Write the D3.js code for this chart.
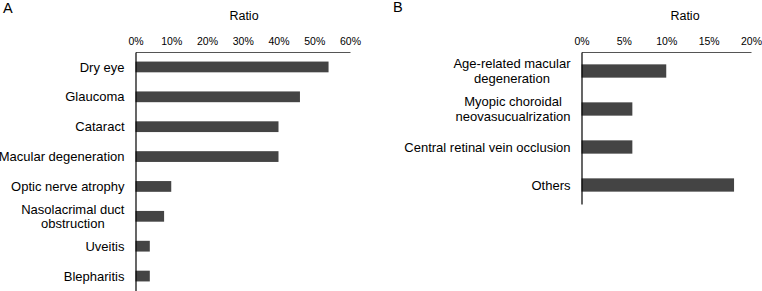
<!DOCTYPE html>
<html><head><meta charset="utf-8">
<script src="https://cdn.jsdelivr.net/npm/d3@7"></script>
<style>
body{margin:0;background:#fff;}
svg{display:block;font-family:"Liberation Sans",Arial,sans-serif;}
</style></head>
<body>
<svg id="c" width="762" height="291"></svg>
<script>
const catsA = ["Dry eye","Glaucoma","Cataract","Macular degeneration","Optic nerve atrophy","Nasolacrimal duct\nobstruction","Uveitis","Blepharitis"];
const valsA = [0.54,0.46,0.40,0.40,0.10,0.08,0.04,0.04];
const ticksA = [0,0.1,0.2,0.3,0.4,0.5,0.6];

const catsB = ["Age-related macular\ndegeneration","Myopic choroidal\nneovasucualrization","Central retinal vein occlusion","Others"];
const valsB = [0.10,0.06,0.06,0.18];
const ticksB = [0,0.05,0.10,0.15,0.20];

const svg = d3.select("#c");

function panel(cfg){
  const g = svg.append("g");
  const x = d3.scaleLinear().domain(cfg.domain).range([cfg.x0, cfg.x1]);
  const y = d3.scaleBand().domain(cfg.cats).range([cfg.y0, cfg.y1]).paddingInner(cfg.pad).paddingOuter(cfg.pad/2);
  // bars
  g.selectAll("rect").data(cfg.cats).enter().append("rect")
    .attr("x", x(0)).attr("y", d => y(d))
    .attr("width", (d,i) => x(cfg.vals[i]) - x(0))
    .attr("height", y.bandwidth())
    .attr("fill", "#444444");
  // top axis
  const ax = g.append("g").attr("transform", `translate(0,${cfg.y0})`)
    .call(d3.axisTop(x).tickValues(cfg.ticks).tickSize(0).tickPadding(7.5).tickFormat(d3.format(".0%")));
  ax.select(".domain").attr("stroke", "#555").attr("stroke-width", 1.2);
  ax.selectAll("text").attr("font-size", "10.5px").attr("fill", "#000").attr("font-family", "Liberation Sans, Arial, sans-serif");
  // left axis
  const ay = g.append("g").attr("transform", `translate(${x(0)},0)`)
    .call(d3.axisLeft(y).tickSize(0).tickPadding(11).tickFormat(""));
  ay.select(".domain").attr("stroke", "#000").attr("stroke-width", 1.2);
  ay.selectAll(".tick").each(function(d){
    const t = d3.select(this);
    t.select("text").remove();
    const lines = d.split("\n");
    const right = -11;
    const tg = t.append("g");
    const txts = lines.map((ln,i) => tg.append("text")
      .attr("font-size","13px").attr("fill","#000")
      .attr("font-family","Liberation Sans, Arial, sans-serif")
      .attr("y", (i - (lines.length-1)/2) * cfg.lh)
      .attr("dy","0.35em").text(ln));
    if (lines.length === 1){
      txts[0].attr("text-anchor","end").attr("x", right);
    } else {
      const w = d3.max(txts, t => t.node().getComputedTextLength());
      txts.forEach(t => t.attr("text-anchor","middle").attr("x", right - w/2));
    }
  });
  // title
  g.append("text").attr("x", cfg.titleX).attr("y", 20).attr("text-anchor","middle")
    .attr("font-size","12.5px").attr("fill","#000").text("Ratio");
  g.append("text").attr("x", cfg.letterX).attr("y", cfg.letterY).attr("font-size","14.5px").attr("fill","#000").text(cfg.letter);
}

panel({cats:catsA, vals:valsA, ticks:ticksA, domain:[0,0.6], x0:135.5, x1:350, y0:52, y1:291, pad:0.64, lh:14, titleX:244, letterX:3, letterY:13, letter:"A"});
panel({cats:catsB, vals:valsB, ticks:ticksB, domain:[0,0.2], x0:581.5, x1:751, y0:52, y1:204, pad:0.65, lh:15, titleX:685, letterX:393, letterY:12, letter:"B"});
</script>
</body></html>
